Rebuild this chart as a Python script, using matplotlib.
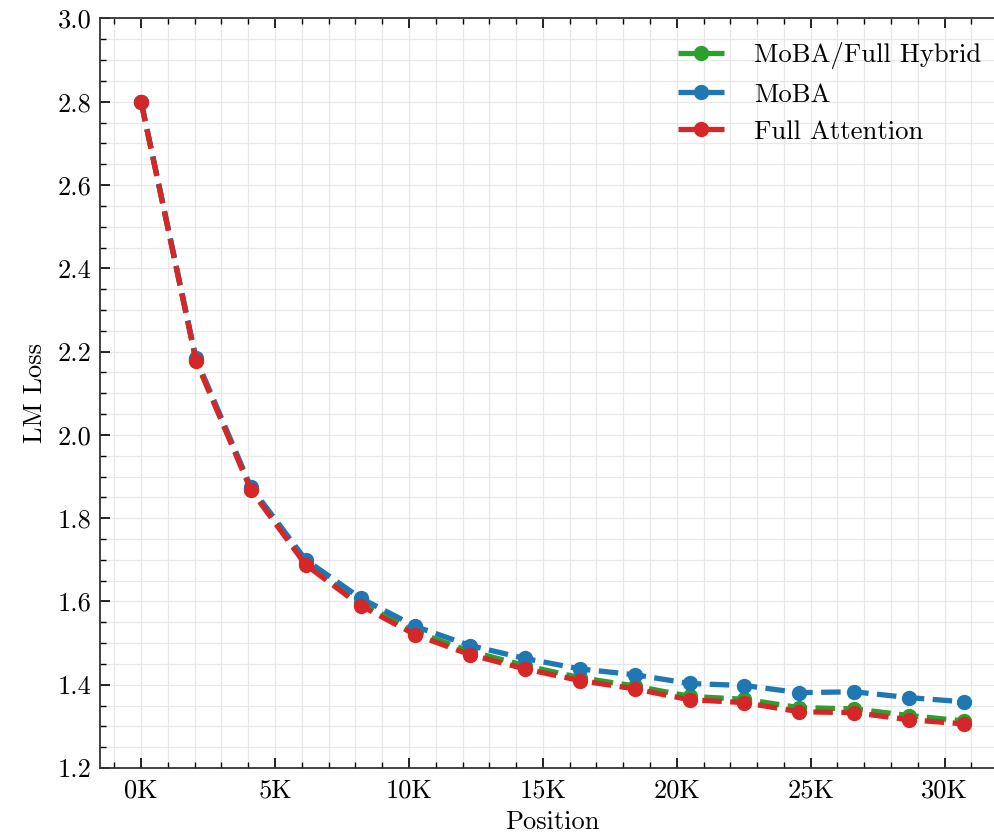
import matplotlib
matplotlib.use("Agg")
import matplotlib.pyplot as plt
from matplotlib.ticker import MultipleLocator, FuncFormatter

positions = [0, 2048, 4096, 6144, 8192, 10240, 12288, 14336, 16384, 18432,
             20480, 22528, 24576, 26624, 28672, 30720]
hybrid = [2.800, 2.180, 1.870, 1.692, 1.597, 1.527, 1.480, 1.446, 1.417, 1.397,
          1.372, 1.365, 1.345, 1.342, 1.326, 1.313]
moba = [2.800, 2.184, 1.875, 1.700, 1.608, 1.540, 1.494, 1.463, 1.438, 1.424,
        1.403, 1.398, 1.381, 1.383, 1.369, 1.359]
full = [2.799, 2.178, 1.868, 1.688, 1.590, 1.520, 1.472, 1.438, 1.410, 1.390,
        1.364, 1.357, 1.335, 1.333, 1.316, 1.306]
series_names = ["MoBA/Full Hybrid", "MoBA", "Full Attention"]
colors = ["#2ca02c", "#1f77b4", "#d62728"]

plt.rcParams['font.family'] = ['serif']
plt.rcParams['font.serif'] = ['cmr10', 'DejaVu Serif']
plt.rcParams['mathtext.fontset'] = 'cm'
plt.rcParams['axes.formatter.use_mathtext'] = True

fig = plt.figure(figsize=(9.94, 8.39), dpi=100)
ax = fig.add_axes([100/994, 71/839, 905/994, 749.5/839])

for name, ys, c in zip(series_names, [hybrid, moba, full], colors):
    ax.plot(positions, ys, linestyle='--', marker='o', color=c, lw=3.8,
            markersize=10, label=name)

ax.set_ylim(1.2, 3.0)
ax.set_xlim(-1536, 32256)
ax.xaxis.set_major_locator(MultipleLocator(5000))
ax.xaxis.set_minor_locator(MultipleLocator(1000))
ax.yaxis.set_major_locator(MultipleLocator(0.2))
ax.yaxis.set_minor_locator(MultipleLocator(0.05))
ax.xaxis.set_major_formatter(FuncFormatter(lambda v, p: f"{int(round(v/1000))}K"))
ax.yaxis.set_major_formatter(FuncFormatter(lambda v, p: f"{v:.1f}"))

ax.tick_params(which='both', direction='in', top=True, right=True, labelsize=19)
ax.tick_params(axis='x', which='major', pad=8)
ax.tick_params(axis='y', which='major', pad=6)
ax.tick_params(which='major', length=7, width=1.2)
ax.tick_params(which='minor', length=4, width=1.0)
ax.grid(which='both', color='#e8e8e8', linewidth=0.9)
ax.set_axisbelow(True)
for s in ax.spines.values():
    s.set_linewidth(1.3)
    s.set_color('#333333')

ax.set_xlabel("Position", fontsize=19, labelpad=5)
ax.set_ylabel("LM Loss", fontsize=19, labelpad=8)

leg = ax.legend(loc='upper right', frameon=False, fontsize=19.2, handlelength=1.75,
                handletextpad=1.1, borderaxespad=0.5, labelspacing=0.5)

fig.savefig("out.png", dpi=100)
